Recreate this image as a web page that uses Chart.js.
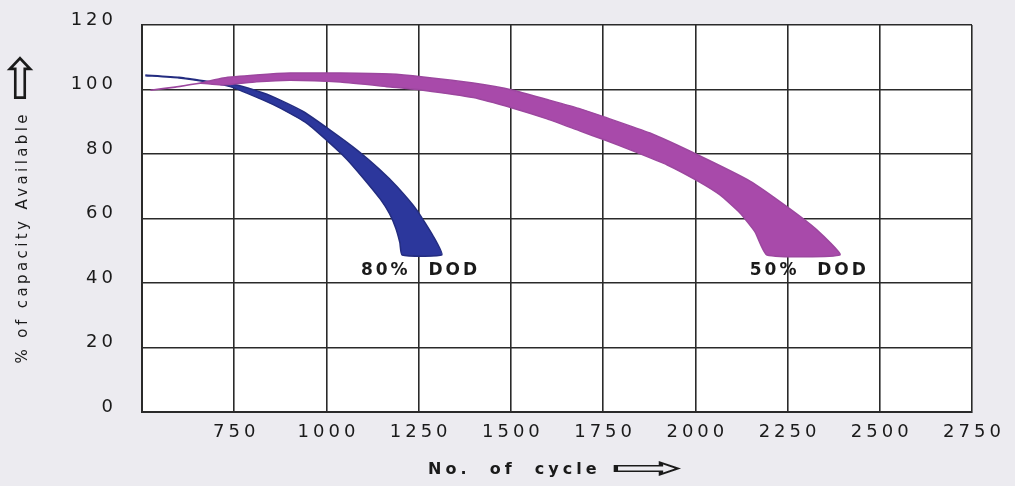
<!DOCTYPE html>
<html>
<head>
<meta charset="utf-8">
<title>Capacity vs cycles</title>
<script src="https://cdn.jsdelivr.net/npm/chart.js@4.4.1/dist/chart.umd.min.js"></script>
<style>
  body { margin: 0; background: #ecebf0; }
  #box { width: 1015px; height: 486px; }
</style>
</head>
<body>
<div id="box"><canvas id="cyclechart"></canvas></div>
<script>
// axes
var cycleTicks = [500, 750, 1000, 1250, 1500, 1750, 2000, 2250, 2500, 2750];
var cycleTickLabels = ["", "750", "1000", "1250", "1500", "1750", "2000", "2250", "2500", "2750"];
var capacityTicks = [0, 20, 40, 60, 80, 100, 120];

// 80% DOD band: top edge left->right, then bottom edge right->left
var dod80TopCycles = [509, 600, 685, 757, 829, 875, 938, 1010, 1083, 1146, 1191, 1245, 1290, 1313];
var dod80TopCapacity = [104.5, 103.8, 102.4, 101.4, 98.9, 96.7, 93.1, 87.4, 81.2, 75.0, 69.9, 62.6, 54.4, 48.7];
var dod80BottomCycles = [1205, 1199, 1188, 1171, 1146, 1100, 1055, 1010, 947, 875, 829, 739, 685, 600, 509];
var dod80BottomCapacity = [48.7, 52.5, 57.0, 61.5, 66.0, 72.5, 78.4, 83.3, 89.5, 94.2, 96.7, 100.9, 102.2, 103.6, 104.3];

// 50% DOD band
var dod50TopCycles = [523, 590, 658, 720, 810, 902, 1038, 1173, 1262, 1398, 1506, 1598, 1688, 1753, 1877, 2007, 2148, 2249, 2330, 2392];
var dod50TopCapacity = [99.8, 100.8, 102.0, 103.6, 104.5, 105.1, 105.1, 104.8, 103.9, 102.0, 99.8, 96.9, 94.0, 91.5, 86.5, 79.7, 71.6, 63.6, 56.4, 48.7];
var dod50BottomCycles = [2194, 2162, 2121, 2067, 2007, 1924, 1832, 1753, 1688, 1598, 1506, 1398, 1262, 1173, 1038, 902, 810, 720, 658, 590, 523];
var dod50BottomCapacity = [48.7, 55.8, 61.7, 67.3, 71.6, 76.6, 80.9, 84.4, 87.1, 90.9, 94.2, 97.5, 99.8, 100.8, 102.3, 102.9, 102.4, 101.4, 101.9, 100.7, 99.8];

var bandNames = ["80%  DOD", "50%  DOD"];
var labelCycles = [1255, 2309];
var labelCapacity = [44, 44];

function band(topX, topY, botX, botY) {
  var pts = [];
  for (var i = 0; i < topX.length; i++) pts.push({x: topX[i], y: topY[i]});
  for (var j = 0; j < botX.length; j++) pts.push({x: botX[j], y: botY[j]});
  return pts;
}

// draws a text with an outlined arrow after it, centred on cx
function titleWithArrow(ctx, text, cx, cy, arrowSize, arrowStretch) {
  var w1 = ctx.measureText(text).width;
  var f = ctx.font;
  ctx.font = arrowSize + 'px "DejaVu Sans"';
  var ls = ctx.letterSpacing;
  ctx.letterSpacing = '0px';
  var w2 = ctx.measureText('\u21E8').width * arrowStretch;
  var gap = 10;
  var start = cx - (w1 + gap + w2) / 2;
  ctx.save();
  ctx.translate(start + w1 + gap, cy);
  ctx.scale(arrowStretch, 1);
  ctx.fillText('\u21E8', 0, 0);
  ctx.restore();
  ctx.font = f;
  ctx.letterSpacing = ls;
  ctx.fillText(text, start, cy);
}

var paper = {
  id: 'paper',
  beforeDraw: function (chart) {
    var ctx = chart.ctx, a = chart.chartArea;
    ctx.save();
    ctx.fillStyle = '#ecebf0';
    ctx.fillRect(0, 0, chart.width, chart.height);
    ctx.fillStyle = '#ffffff';
    ctx.fillRect(a.left, a.top, a.right - a.left, a.bottom - a.top);
    ctx.restore();
    ctx.letterSpacing = '4px';
  },
  afterDraw: function (chart) {
    var ctx = chart.ctx, a = chart.chartArea;
    var xs = chart.scales.x, ys = chart.scales.y;
    ctx.save();
    ctx.fillStyle = '#1a1a1a';
    ctx.textBaseline = 'middle';
    ctx.textAlign = 'center';
    ctx.font = 'bold 17px "DejaVu Sans"';
    ctx.letterSpacing = '3px';
    for (var i = 0; i < bandNames.length; i++) {
      ctx.fillText(bandNames[i], xs.getPixelForValue(labelCycles[i]), ys.getPixelForValue(labelCapacity[i]));
    }
    ctx.textAlign = 'left';
    // x title
    ctx.font = 'bold 16px "DejaVu Sans"';
    ctx.letterSpacing = '4px';
    titleWithArrow(ctx, 'No.  of  cycle', (a.left + a.right) / 2, 470, 30, 3);
    // y title
    ctx.save();
    ctx.translate(23, (a.top + a.bottom) / 2 - 10);
    ctx.rotate(-Math.PI / 2);
    ctx.font = '15px "DejaVu Sans"';
    ctx.letterSpacing = '3.4px';
    titleWithArrow(ctx, '% of capacity Available', 0, 0, 54, 1.05);
    ctx.restore();
    ctx.restore();
  }
};

var context = document.getElementById("cyclechart");
var cyclechart = new Chart(context, {
  type: 'line',
  data: {
    datasets: [
      {
        label: "50% DOD",
        data: band(dod50TopCycles, dod50TopCapacity, dod50BottomCycles, dod50BottomCapacity),
        backgroundColor: "#a84aaa",
        borderColor: "#9c479f",
        borderWidth: 1.5,
        fill: 'shape',
        tension: 0.15,
        pointRadius: 0
      },
      {
        label: "80% DOD",
        data: band(dod80TopCycles, dod80TopCapacity, dod80BottomCycles, dod80BottomCapacity),
        backgroundColor: "#2c379c",
        borderColor: "#232c80",
        borderWidth: 1.5,
        fill: 'shape',
        tension: 0.15,
        pointRadius: 0
      }
    ]
  },
  options: {
    responsive: true,
    maintainAspectRatio: false,
    animation: false,
    layout: { padding: { left: 0, top: 25, right: 43, bottom: 0 } },
    plugins: {
      legend: { display: false },
      tooltip: { enabled: false }
    },
    scales: {
      x: {
        type: 'linear',
        min: cycleTicks[0],
        max: cycleTicks[cycleTicks.length - 1],
        afterBuildTicks: function (s) { s.ticks = cycleTicks.map(function (v) { return {value: v}; }); },
        afterFit: function (s) { s.height = 74; s.paddingLeft = 0; s.paddingRight = 0; },
        grid: { color: '#2a2a2a', lineWidth: 1.6, drawTicks: false },
        border: { color: '#2a2a2a', width: 2 },
        ticks: {
          autoSkip: false,
          maxRotation: 0,
          padding: 10,
          labelOffset: 2,
          color: '#1a1a1a',
          font: { family: 'DejaVu Sans', size: 18 },
          callback: function (v) { return cycleTickLabels[cycleTicks.indexOf(v)]; }
        }
      },
      y: {
        min: capacityTicks[0],
        max: capacityTicks[capacityTicks.length - 1],
        afterBuildTicks: function (s) { s.ticks = capacityTicks.map(function (v) { return {value: v}; }); },
        afterFit: function (s) { s.width = 142; s.paddingTop = 0; s.paddingBottom = 0; },
        grid: { color: '#2a2a2a', lineWidth: 1.6, drawTicks: false },
        border: { color: '#2a2a2a', width: 2 },
        ticks: {
          padding: 25,
          labelOffset: -5,
          color: '#1a1a1a',
          font: { family: 'DejaVu Sans', size: 18 }
        }
      }
    }
  },
  plugins: [paper]
});
</script>
</body>
</html>
